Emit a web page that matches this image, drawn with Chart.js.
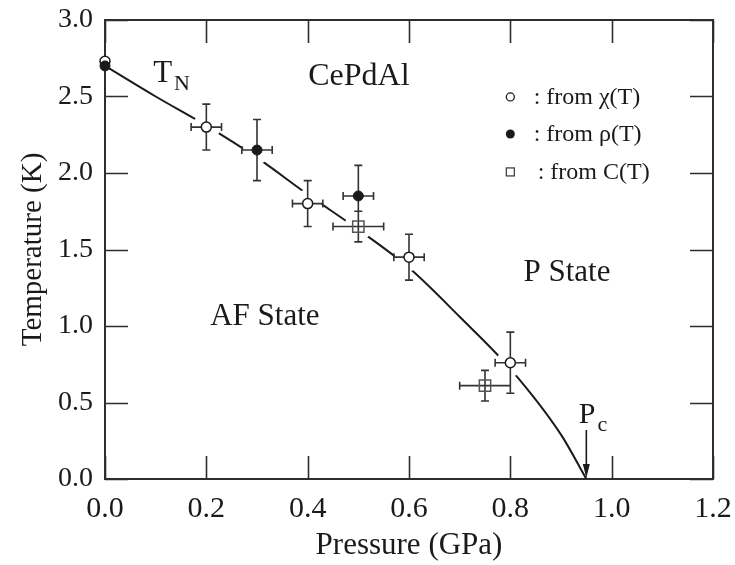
<!DOCTYPE html>
<html>
<head>
<meta charset="utf-8">
<script src="https://cdn.jsdelivr.net/npm/chart.js@4.4.1/dist/chart.umd.min.js"></script>
<style>
  html, body { margin: 0; padding: 0; background: #fff; }
  #wrap { width: 735px; height: 565px; }
</style>
</head>
<body>
<div id="wrap"><canvas id="c" width="735" height="565"></canvas></div>
<script>
// Pressure dependence of the Néel temperature of CePdAl

const xTicks = [0, 0.2, 0.4, 0.6, 0.8, 1.0, 1.2];
const yTicks = [0, 0.5, 1.0, 1.5, 2.0, 2.5, 3.0];

// from chi(T)
const chiP = [0.0, 0.2, 0.4, 0.6, 0.8];
const chiT = [2.73, 2.30, 1.80, 1.45, 0.76];
const chiErrP = [0, 0.03, 0.03, 0.03, 0.03];
const chiErrT = [0, 0.15, 0.15, 0.15, 0.20];

// from rho(T)
const rhoP = [0.0, 0.3, 0.5];
const rhoT = [2.70, 2.15, 1.85];
const rhoErrP = [0, 0.03, 0.03];
const rhoErrT = [0, 0.20, 0.20];

// from C(T)
const heatP = [0.5, 0.75];
const heatT = [1.65, 0.61];
const heatErrP = [0.05, 0.05];
const heatErrT = [0.10, 0.10];

// T_N(P) phase boundary
const lineP = [0.0, 0.1, 0.2, 0.3, 0.4, 0.5, 0.6, 0.7, 0.8, 0.9, 0.95];
const lineT = [2.70, 2.50, 2.31, 2.10, 1.86, 1.63, 1.38, 1.06, 0.72, 0.29, 0.0];

const pc = 0.95;

const ink = '#1a1a1a';
const frameInk = '#2e2e2e';
const serif = '"Liberation Serif", "Times New Roman", Times, serif';

const pts = (xs, ys) => xs.map((x, i) => ({ x: x, y: ys[i] }));

const errorSets = [
  { p: chiP, t: chiT, ep: chiErrP, et: chiErrT },
  { p: rhoP, t: rhoT, ep: rhoErrP, et: rhoErrT },
  { p: heatP, t: heatT, ep: heatErrP, et: heatErrT }
];

// the plot box is set by layout padding alone, not by label overhang
const noOverhang = s => {
  s.paddingLeft = 0; s.paddingRight = 0; s.paddingTop = 0; s.paddingBottom = 0;
};

// inward ticks and the closed frame
const framePlugin = {
  id: 'frame',
  beforeDatasetsDraw(chart) {
    const { ctx, chartArea: a, scales: { x, y } } = chart;
    ctx.save();
    ctx.strokeStyle = frameInk;
    ctx.lineWidth = 2;
    ctx.strokeRect(a.left, a.top, a.right - a.left, a.bottom - a.top);
    ctx.lineWidth = 1.6;
    ctx.beginPath();
    xTicks.forEach(v => {
      const px = Math.round(x.getPixelForValue(v)) + 0.5;
      ctx.moveTo(px, a.bottom); ctx.lineTo(px, a.bottom - 23);
      ctx.moveTo(px, a.top); ctx.lineTo(px, a.top + 23);
    });
    yTicks.forEach(v => {
      const py = Math.round(y.getPixelForValue(v)) + 0.5;
      ctx.moveTo(a.left, py); ctx.lineTo(a.left + 23, py);
      ctx.moveTo(a.right, py); ctx.lineTo(a.right - 23, py);
    });
    ctx.stroke();
    ctx.restore();
  }
};

// error bars, painted over the white halos and under the symbols
const errorBarPlugin = {
  id: 'errorBars',
  afterDatasetDraw(chart, args) {
    if (args.index !== 1) return;
    const { ctx, scales: { x, y } } = chart;
    const cap = 4;
    ctx.save();
    ctx.strokeStyle = '#333';
    ctx.lineWidth = 1.6;
    ctx.beginPath();
    errorSets.forEach(s => {
      s.p.forEach((p, i) => {
        const cx = x.getPixelForValue(p);
        const cy = y.getPixelForValue(s.t[i]);
        if (s.et[i] > 0) {
          const y1 = y.getPixelForValue(s.t[i] + s.et[i]);
          const y2 = y.getPixelForValue(s.t[i] - s.et[i]);
          ctx.moveTo(cx, y1); ctx.lineTo(cx, y2);
          ctx.moveTo(cx - cap, y1); ctx.lineTo(cx + cap, y1);
          ctx.moveTo(cx - cap, y2); ctx.lineTo(cx + cap, y2);
        }
        if (s.ep[i] > 0) {
          const x1 = x.getPixelForValue(p - s.ep[i]);
          const x2 = x.getPixelForValue(p + s.ep[i]);
          ctx.moveTo(x1, cy); ctx.lineTo(x2, cy);
          ctx.moveTo(x1, cy - cap); ctx.lineTo(x1, cy + cap);
          ctx.moveTo(x2, cy - cap); ctx.lineTo(x2, cy + cap);
        }
      });
    });
    ctx.stroke();
    ctx.restore();
  }
};

// labels, the P_c arrow and the symbol key
const labelPlugin = {
  id: 'labels',
  afterDatasetsDraw(chart) {
    const { ctx, scales: { x, y } } = chart;
    const X = v => x.getPixelForValue(v);
    const Y = v => y.getPixelForValue(v);
    ctx.save();
    ctx.fillStyle = ink;
    ctx.textAlign = 'left';
    ctx.textBaseline = 'alphabetic';

    const sub = (main, small, px, py, size) => {
      ctx.font = size + 'px ' + serif;
      ctx.fillText(main, px, py);
      const w = ctx.measureText(main).width;
      ctx.font = Math.round(size * 0.72) + 'px ' + serif;
      ctx.fillText(small, px + w + 2, py + 8);
    };

    ctx.font = '32px ' + serif;
    ctx.fillText('CePdAl', X(0.401), Y(2.575));
    sub('T', 'N', X(0.095), Y(2.595), 31);
    ctx.font = '31px ' + serif;
    ctx.fillText('AF State', X(0.2076), Y(1.007));
    ctx.fillText('P State', X(0.826), Y(1.294));
    sub('P', 'c', X(0.935), Y(0.366), 30);

    // arrow down to P_c
    const ax = X(pc), ay1 = Y(0.32), ay2 = Y(0.0) - 1;
    ctx.strokeStyle = ink;
    ctx.lineWidth = 1.6;
    ctx.beginPath();
    ctx.moveTo(ax, ay1); ctx.lineTo(ax, ay2 - 10);
    ctx.stroke();
    ctx.beginPath();
    ctx.moveTo(ax, ay2);
    ctx.lineTo(ax - 3.5, ay2 - 14);
    ctx.lineTo(ax + 3.5, ay2 - 14);
    ctx.closePath();
    ctx.fill();

    // symbol key
    const kx = X(0.80);
    const rows = [Y(2.497), Y(2.255), Y(2.007)];
    ctx.lineWidth = 1.3;
    ctx.beginPath(); ctx.arc(kx, rows[0], 4, 0, Math.PI * 2);
    ctx.fillStyle = '#fff'; ctx.fill(); ctx.strokeStyle = ink; ctx.stroke();
    ctx.beginPath(); ctx.arc(kx, rows[1], 4.5, 0, Math.PI * 2);
    ctx.fillStyle = ink; ctx.fill();
    ctx.strokeStyle = '#444';
    ctx.strokeRect(kx - 4, rows[2] - 4, 8, 8);

    ctx.fillStyle = ink;
    ctx.font = '24px ' + serif;
    ctx.fillText(': from \u03C7(T)', X(0.846), rows[0] + 7);
    ctx.fillText(': from \u03C1(T)', X(0.846), rows[1] + 7);
    ctx.fillText(': from C(T)', X(0.854), rows[2] + 7);
    ctx.restore();
  }
};

const haloData = pts(chiP, chiT).concat(pts(rhoP, rhoT), pts(heatP, heatT));

new Chart(document.getElementById('c'), {
  type: 'scatter',
  data: {
    datasets: [
      {
        type: 'line',
        label: 'T_N',
        data: pts(lineP, lineT),
        borderColor: ink,
        borderWidth: 2,
        pointRadius: 0,
        fill: false,
        cubicInterpolationMode: 'monotone',
        order: 6
      },
      {
        label: 'halo',
        data: haloData,
        pointRadius: c => (c.raw && c.raw.x > 0 ? 14 : 0),
        pointBackgroundColor: '#fff',
        pointBorderWidth: 0,
        borderColor: 'rgba(0,0,0,0)',
        clip: false,
        order: 5
      },
      {
        label: 'from \u03C7(T)',
        data: pts(chiP, chiT),
        pointStyle: 'circle',
        pointRadius: 5,
        pointBackgroundColor: '#fff',
        pointBorderColor: ink,
        pointBorderWidth: 1.5,
        clip: false,
        order: 3
      },
      {
        label: 'from C(T)',
        data: pts(heatP, heatT),
        pointStyle: 'rect',
        pointRadius: 8,
        pointBackgroundColor: 'rgba(0,0,0,0)',
        pointBorderColor: '#555',
        pointBorderWidth: 1.5,
        clip: false,
        order: 2
      },
      {
        label: 'from \u03C1(T)',
        data: pts(rhoP, rhoT),
        pointStyle: 'circle',
        pointRadius: 5,
        pointBackgroundColor: ink,
        pointBorderColor: ink,
        pointBorderWidth: 1,
        clip: false,
        order: 1
      }
    ]
  },
  options: {
    responsive: false,
    animation: false,
    events: [],
    layout: { padding: { left: 0, right: 22, top: 20, bottom: 0 }, autoPadding: false },
    plugins: { legend: { display: false }, tooltip: { enabled: false } },
    scales: {
      x: {
        type: 'linear',
        min: 0, max: 1.2,
        afterBuildTicks: s => { s.ticks = xTicks.map(v => ({ value: v })); },
        afterFit: s => { s.height = 86; noOverhang(s); },
        grid: { display: false, drawTicks: false },
        border: { display: false },
        ticks: {
          font: { family: serif, size: 30 },
          color: ink,
          padding: 12,
          maxRotation: 0,
          callback: v => Number(v).toFixed(1)
        },
        title: {
          display: true,
          text: 'Pressure (GPa)',
          font: { family: serif, size: 31 },
          color: ink,
          padding: { top: 0, bottom: 1 }
        }
      },
      y: {
        type: 'linear',
        min: 0, max: 3.0,
        afterBuildTicks: s => { s.ticks = yTicks.map(v => ({ value: v })); },
        afterFit: s => { s.width = 105; noOverhang(s); },
        grid: { display: false, drawTicks: false },
        border: { display: false },
        ticks: {
          font: { family: serif, size: 28 },
          color: ink,
          padding: 12,
          callback: v => Number(v).toFixed(1)
        },
        title: {
          display: true,
          text: 'Temperature (K)',
          font: { family: serif, size: 29 },
          color: ink,
          padding: { top: 16, bottom: 0 }
        }
      }
    }
  },
  plugins: [framePlugin, errorBarPlugin, labelPlugin]
});
</script>
</body>
</html>
